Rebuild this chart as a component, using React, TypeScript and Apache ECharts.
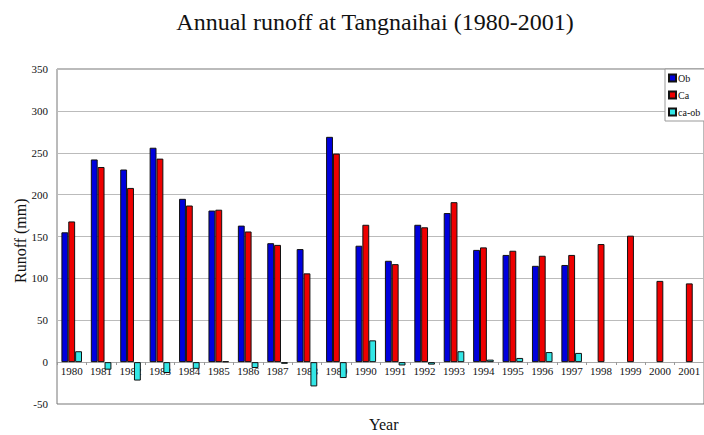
import React, { useEffect, useRef } from "react";
import * as echarts from "echarts";

const years = ["1980","1981","1982","1983","1984","1985","1986","1987","1988","1989","1990","1991","1992","1993","1994","1995","1996","1997","1998","1999","2000","2001"];
const ob: (number | null)[] = [155,242,230,256,195,181,163,142,135,269,139,121,164,178,134,128,115,116,null,null,null,null];
const ca: (number | null)[] = [168,233,208,243,187,182,156,140,106,249,164,117,161,191,137,133,127,128,141,151,97,94];
const caOb: (number | null)[] = [13,-9,-22,-13,-8,1,-7,-2,-29,-19,26,-4,-3,13,3,5,12,11,null,null,null,null];

const FONT = "Liberation Serif";

export default function App() {
  const ref = useRef<HTMLDivElement>(null);
  useEffect(() => {
    if (!ref.current) return;
    const chart = echarts.init(ref.current, undefined, { renderer: "svg" });
    const barStyle = (color: string) => ({ color, borderColor: "#111", borderWidth: 1 });
    chart.setOption({
      animation: false,
      backgroundColor: "#ffffff",
      textStyle: { fontFamily: FONT },
      title: {
        text: "Annual runoff at Tangnaihai (1980-2001)",
        left: 370,
        textAlign: "center",
        top: 5,
        textStyle: { fontFamily: FONT, fontSize: 24, fontWeight: "normal", color: "#111" },
      },
      legend: {
        orient: "vertical",
        left: 665,
        top: 69,
        data: ["Ob", "Ca", "ca-ob"],
        icon: "rect",
        itemWidth: 7,
        itemHeight: 7,
        itemGap: 7,
        padding: [4, 20, 4, 3],
        backgroundColor: "#fff",
        borderColor: "#999",
        borderWidth: 1,
        textStyle: { fontFamily: FONT, fontSize: 10, color: "#111", padding: [0, 0, 0, -3] },
      },
      grid: {
        left: 57,
        top: 69,
        right: -6,
        bottom: 31,
        show: true,
        borderColor: "#777",
        borderWidth: 1,
        backgroundColor: "#fff",
      },
      xAxis: {
        type: "category",
        data: years,
        offset: -42,
        axisLine: { show: true, onZero: false, lineStyle: { color: "#aaa" } },
        axisTick: { show: true, length: 3, lineStyle: { color: "#999" } },
        axisLabel: { fontFamily: FONT, fontSize: 11, color: "#111", margin: 3, interval: 0 },
      },
      yAxis: {
        type: "value",
        min: -50,
        max: 350,
        interval: 50,
        axisLine: { show: false },
        axisTick: { show: false },
        axisLabel: { fontFamily: FONT, fontSize: 11, color: "#111", margin: 9 },
        splitLine: { show: true, lineStyle: { color: "#bbb" } },
      },
      graphic: [
        {
          type: "text",
          rotation: Math.PI / 2,
          style: { text: "Runoff (mm)", fontFamily: FONT, fontSize: 16, fill: "#111" },
          x: 12,
          y: 283,
        },
        {
          type: "text",
          x: 369,
          y: 416,
          style: { text: "Year", fontFamily: FONT, fontSize: 16, fill: "#111" },
        },
      ],
      series: [
        { name: "Ob", type: "bar", data: ob, itemStyle: barStyle("#0000dd"), barGap: "0%", barCategoryGap: "30%" },
        { name: "Ca", type: "bar", data: ca, itemStyle: barStyle("#ee0000"), barGap: "0%", barCategoryGap: "30%" },
        { name: "ca-ob", type: "bar", data: caOb, itemStyle: barStyle("#33e6e6"), barGap: "0%", barCategoryGap: "30%" },
      ],
    });
    return () => chart.dispose();
  }, []);
  return <div ref={ref} style={{ position: "absolute", left: 0, top: 0, width: 704, height: 435 }} />;
}
